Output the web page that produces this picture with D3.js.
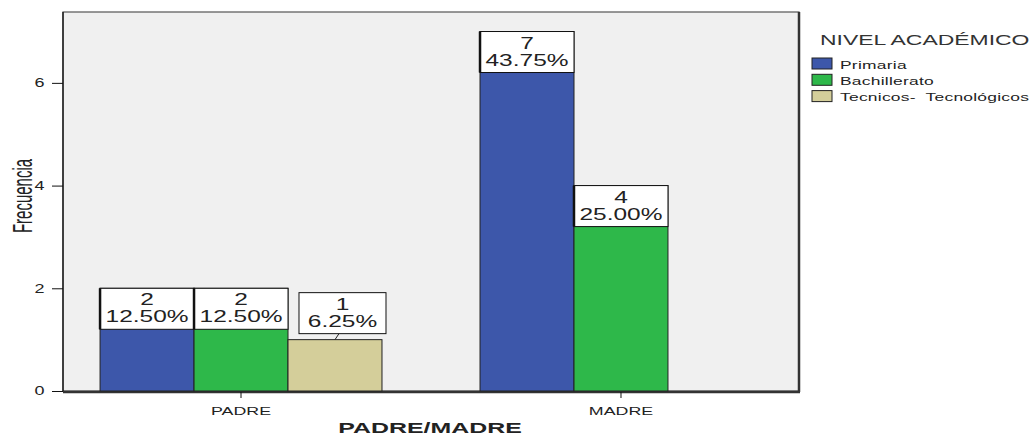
<!DOCTYPE html>
<html><head><meta charset="utf-8">
<script src="https://cdn.jsdelivr.net/npm/d3@7"></script>
<style>
html,body{margin:0;padding:0;background:#fff;}
text{font-family:"Liberation Sans",Arial,sans-serif;}
</style></head>
<body><svg id="c" width="1035" height="436"></svg>
<script>
const categories = ["PADRE", "MADRE"];
const seriesNames = ["Primaria", "Bachillerato", "Tecnicos- Tecnológicos"];
const primaria = [2, 7];
const bachillerato = [2, 4];
const tecnicos = [1, 0];
const yTicks = [0, 2, 4, 6];
const totalN = 16;
const colors = ["#3d57aa", "#2eb84a", "#d4ce9a"];

const svg = d3.select("#c");
const M = {l: 63, r: 799, t: 12, b: 391};
const series = [primaria, bachillerato, tecnicos];

const x0 = d3.scaleBand().domain(categories).range([M.l, M.r]).paddingInner(0.258).paddingOuter(0.0975);
const x1 = d3.scaleBand().domain(seriesNames).range([0, x0.bandwidth()]);
const y = d3.scaleLinear().domain([0, 7.38]).range([M.b, M.t]);

// plot background
svg.append("rect").attr("x", M.l).attr("y", M.t).attr("width", M.r - M.l).attr("height", M.b - M.t)
  .attr("fill", "#f0f0f0").attr("stroke", "#555").attr("stroke-width", 1.2);
svg.append("line").attr("x1", M.r).attr("x2", M.r).attr("y1", M.t).attr("y2", M.b + 1).attr("stroke", "#333").attr("stroke-width", 2.5);
svg.append("line").attr("x1", M.l).attr("x2", M.r + 1).attr("y1", M.b + 1).attr("y2", M.b + 1).attr("stroke", "#333").attr("stroke-width", 2.5);

// data records
const recs = [];
categories.forEach((c, i) => seriesNames.forEach((s, j) => {
  recs.push({cat: c, ser: s, j: j, v: series[j][i]});
}));
const bars = recs.filter(d => d.v > 0);

svg.append("g").selectAll("rect").data(bars).join("rect")
  .attr("x", d => x0(d.cat) + x1(d.ser))
  .attr("y", d => y(d.v))
  .attr("width", x1.bandwidth())
  .attr("height", d => y(0) - y(d.v))
  .attr("fill", d => colors[d.j])
  .attr("stroke", "#222").attr("stroke-width", 1);

// y axis
const yAxis = d3.axisLeft(y).tickValues(yTicks).tickSize(11).tickPadding(3).tickFormat(d3.format("d"));
const ya = svg.append("g").attr("transform", `translate(${M.l},0)`).call(yAxis);
ya.select(".domain").attr("stroke", "#111").attr("stroke-width", 1.3).attr("d", `M0,${M.t}V${M.b}`);
ya.selectAll(".tick line").attr("stroke", "#111");
ya.selectAll(".tick text").attr("font-size", 12).attr("fill", "#222")
  .attr("transform", "translate(-3,0) scale(1.5,1)").attr("x", -14 / 1.5 - 1);

// x axis
const xAxis = d3.axisBottom(x0).tickSize(6).tickPadding(7);
const xa = svg.append("g").attr("transform", `translate(0,${M.b + 1})`).call(xAxis);
xa.select(".domain").remove();
xa.selectAll(".tick line").attr("stroke", "#111");
xa.selectAll(".tick text").attr("font-size", 11).attr("fill", "#222").attr("dy", "0.95em")
  .attr("transform", "scale(1.62,1)");

// axis titles
svg.append("text").attr("text-anchor", "middle").attr("font-size", 15).attr("font-weight", "bold").attr("fill", "#222")
  .attr("transform", `translate(430,433) scale(1.66,1)`).text("PADRE/MADRE");
svg.append("text").attr("text-anchor", "middle").attr("font-size", 15).attr("fill", "#222")
  .attr("transform", `translate(32,196) scale(1.85,1) rotate(-90)`).text("Frecuencia");

// value labels
const fmt = d3.format(".2f");
const boxH = 41;
const lab = svg.append("g");
bars.forEach(d => {
  const bx = x0(d.cat) + x1(d.ser);
  const bw = x1.bandwidth();
  const inside = d.v >= 2;
  let left, top, w;
  if (inside) { left = bx; top = y(d.v); w = bw; }
  else {
    w = 87; left = bx + bw / 2 - 36; top = y(d.v) - 6 - boxH;
    lab.append("path").attr("d", `M${bx + bw/2},${y(d.v)} L${bx + bw/2 + 4},${top + boxH}`).attr("stroke", "#222").attr("fill", "none");
  }
  lab.append("rect").attr("x", left).attr("y", top).attr("width", w).attr("height", boxH)
    .attr("fill", "#fff").attr("stroke", "#111").attr("stroke-width", 1);
  if (inside) lab.append("line").attr("x1", left).attr("x2", left).attr("y1", top).attr("y2", top + boxH).attr("stroke", "#111").attr("stroke-width", 2.5);
  const cx = left + w / 2;
  lab.append("text").attr("text-anchor", "middle").attr("font-size", 17).attr("fill", "#222")
    .attr("transform", `translate(${cx},${top + 17}) scale(1.44,1)`).text(d.v);
  lab.append("text").attr("text-anchor", "middle").attr("font-size", 17).attr("fill", "#222")
    .attr("transform", `translate(${cx},${top + 34}) scale(1.44,1)`).text(fmt(d.v / totalN * 100) + "%");
});

// legend
const lg = svg.append("g");
lg.append("text").attr("font-size", 15).attr("fill", "#333")
  .attr("transform", "translate(820,45) scale(1.53,1)").text("NIVEL ACADÉMICO");
seriesNames.forEach((s, j) => {
  const yy = 58 + j * 16.3;
  lg.append("rect").attr("x", 812).attr("y", yy).attr("width", 20).attr("height", 11)
    .attr("fill", colors[j]).attr("stroke", "#222").attr("stroke-width", 1);
  lg.append("text").attr("font-size", 10.5).attr("fill", "#222").attr("word-spacing", 3).attr("letter-spacing", 0.15)
    .attr("transform", `translate(840,${yy + 10.5}) scale(1.66,1)`).text(s);
});
</script></body></html>
